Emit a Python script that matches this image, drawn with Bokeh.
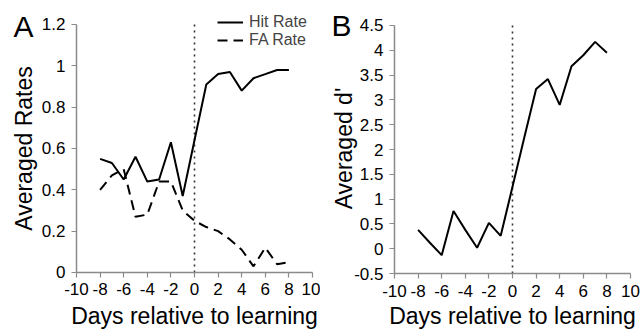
import math
from bokeh.plotting import figure
from bokeh.layouts import row
from bokeh.models import Range1d, FixedTicker, Label
from bokeh.embed import file_html
from bokeh.resources import INLINE

days = [-8, -7, -6, -5, -4, -3, -2, -1, 0, 1, 2, 3, 4, 5, 6, 7, 8]
hit_rate = [0.55, 0.53, 0.45, 0.56, 0.44, 0.45, 0.63, 0.37, 0.64, 0.91, 0.96, 0.97, 0.88, 0.94, 0.96, 0.98, 0.98]
fa_rate = [0.40, 0.47, 0.50, 0.27, 0.28, 0.44, 0.44, 0.30, 0.25, 0.22, 0.20, 0.16, 0.11, 0.03, 0.12, 0.04, 0.05]
dprime = [0.38, 0.12, -0.13, 0.76, 0.38, 0.02, 0.52, 0.26, 1.25, 2.24, 3.22, 3.42, 2.90, 3.68, 3.90, 4.17, 3.95]

x_ticks = [-10, -8, -6, -4, -2, 0, 2, 4, 6, 8, 10]
x_tick_labels = ["-10", "-8", "-6", "-4", "-2", "0", "2", "4", "6", "8", "10"]
rate_ticks = [0, 0.2, 0.4, 0.6, 0.8, 1.0, 1.2]
rate_tick_labels = ["0", "0.2", "0.4", "0.6", "0.8", "1", "1.2"]
d_ticks = [-0.5, 0, 0.5, 1, 1.5, 2, 2.5, 3, 3.5, 4, 4.5]
d_tick_labels = ["-0.5", "0", "0.5", "1", "1.5", "2", "2.5", "3", "3.5", "4", "4.5"]

FONT = "Liberation Sans"
AXIS_COL = "#8a8a8a"


def style(p, yticks, ylabels, ybounds):
    p.xaxis.ticker = FixedTicker(ticks=x_ticks)
    p.xaxis.major_label_overrides = {t: l for t, l in zip(x_ticks, x_tick_labels)}
    p.xaxis.bounds = (-10, 10)
    p.xaxis.fixed_location = ybounds[0]
    p.yaxis.ticker = FixedTicker(ticks=yticks)
    p.yaxis.major_label_overrides = {t: l for t, l in zip(yticks, ylabels)}
    p.yaxis.bounds = ybounds
    p.yaxis.fixed_location = -10
    for ax in (p.xaxis, p.yaxis):
        ax.axis_line_color = AXIS_COL
        ax.axis_line_width = 1.5
        ax.major_tick_line_color = AXIS_COL
        ax.major_tick_line_width = 1.2
        ax.major_tick_out = 5
        ax.major_tick_in = 0
        ax.minor_tick_line_color = None
        ax.major_label_text_font = FONT
        ax.major_label_text_font_size = "17px"
        ax.major_label_text_color = "black"
    p.xaxis.major_label_standoff = 6
    p.yaxis.major_label_standoff = 6
    p.xgrid.grid_line_color = None
    p.ygrid.grid_line_color = None
    p.outline_line_color = None


def add_text(p, x, y, text, size, align="left", angle=0.0):
    p.add_layout(Label(x=x, y=y, text=text, text_font=FONT, text_font_size=size,
                       text_align=align, text_baseline="middle", angle=angle,
                       text_color="black"))


# Panel A: frame covers the whole canvas; axes sit at fixed data positions
p1 = figure(width=320, height=331, output_backend="svg", toolbar_location=None, title=None,
            x_range=Range1d(-16.441, 10.678), y_range=Range1d(-0.2855, 1.3161),
            min_border_left=0, min_border_right=0, min_border_top=0, min_border_bottom=0)
style(p1, rate_ticks, rate_tick_labels, (0, 1.2))
p1.line([0, 0], [0, 1.2], line_color="#333333", line_width=1.6, line_dash="2 4")
p1.line(days, hit_rate, line_color="black", line_width=2, legend_label="Hit Rate")
p1.line(days, fa_rate, line_color="black", line_width=2, line_dash="10 6", legend_label="FA Rate")
lg = p1.legend[0]
lg.location = (217, 282)
lg.background_fill_alpha = 0
lg.border_line_color = None
lg.label_text_font = FONT
lg.label_text_font_size = "16px"
lg.glyph_width = 26
lg.glyph_height = 16
lg.label_height = 16
lg.label_standoff = 6
lg.spacing = -2
lg.padding = 0
lg.margin = 0
add_text(p1, -15.34, 1.19, "A", "30px")
add_text(p1, 0, -0.21, "Days relative to learning", "23px", align="center")
add_text(p1, -14.41, 0.6, "Averaged Rates", "23px", align="center", angle=math.pi / 2)

# Panel B
p2 = figure(width=322, height=331, output_backend="svg", toolbar_location=None, title=None,
            x_range=Range1d(-16.271, 11.017), y_range=Range1d(-1.669, 5.004),
            min_border_left=0, min_border_right=0, min_border_top=0, min_border_bottom=0)
style(p2, d_ticks, d_tick_labels, (-0.5, 4.5))
p2.line([0, 0], [-0.5, 4.5], line_color="#333333", line_width=1.6, line_dash="2 4")
p2.line(days, dprime, line_color="black", line_width=2)
add_text(p2, -15.34, 4.49, "B", "30px")
add_text(p2, 0, -1.355, "Days relative to learning", "23px", align="center")
add_text(p2, -14.24, 2.02, "Averaged d'", "23px", align="center", angle=math.pi / 2)

layout = row(p1, p2)
open("out.html", "w").write(file_html(layout, INLINE))
